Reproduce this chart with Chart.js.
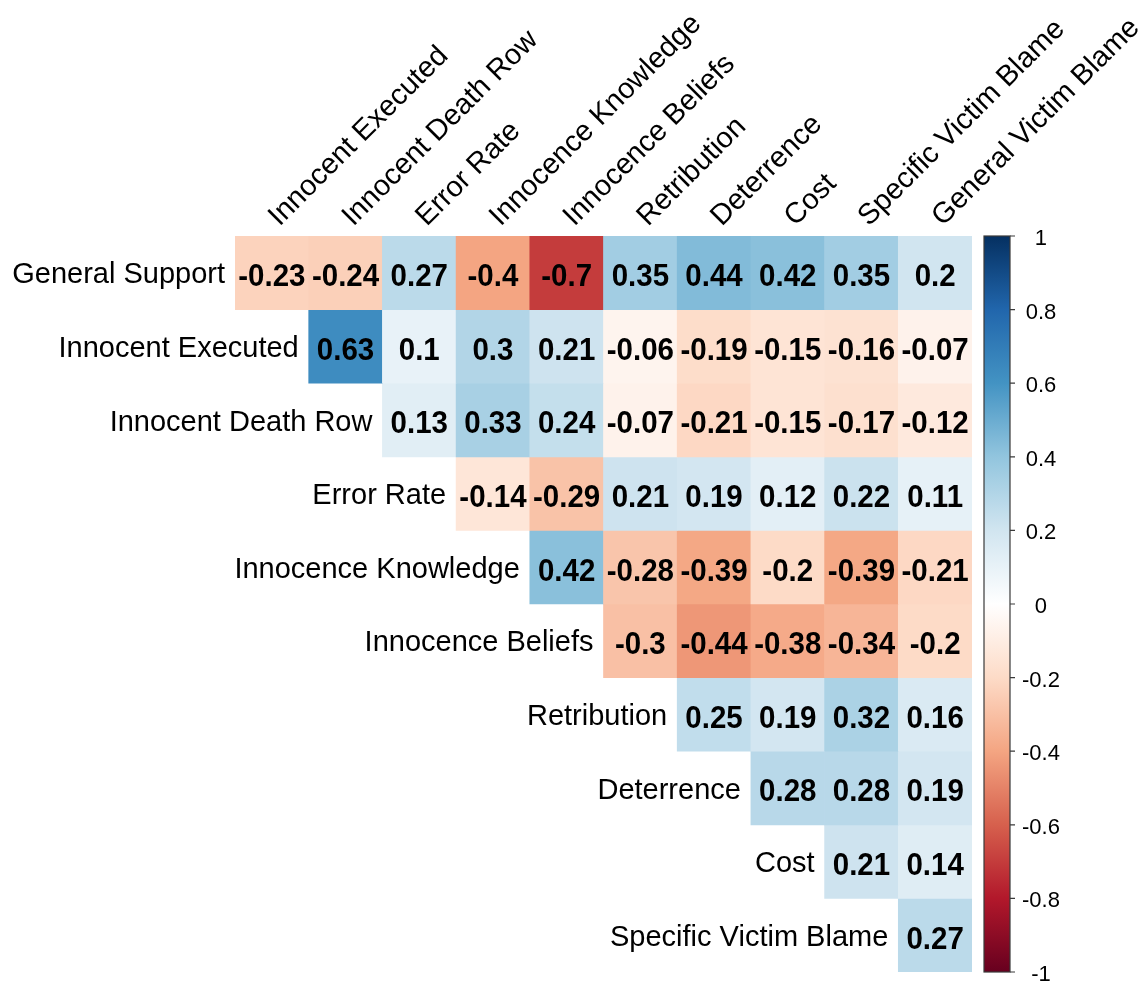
<!DOCTYPE html>
<html>
<head>
<meta charset="utf-8">
<title>Correlation matrix</title>
<script src="https://cdn.jsdelivr.net/npm/chart.js@4/dist/chart.umd.min.js"></script>
<style>
  html, body { margin: 0; padding: 0; background: #ffffff; }
  #wrap { width: 1148px; height: 983px; position: relative; }
</style>
</head>
<body>
<div id="wrap"><canvas id="corr"></canvas></div>
<script>
// Variables along the top (columns) and down the side (rows)
const columnLabels = ['Innocent Executed', 'Innocent Death Row', 'Error Rate', 'Innocence Knowledge',
  'Innocence Beliefs', 'Retribution', 'Deterrence', 'Cost', 'Specific Victim Blame', 'General Victim Blame'];
const rowLabels = ['General Support', 'Innocent Executed', 'Innocent Death Row', 'Error Rate',
  'Innocence Knowledge', 'Innocence Beliefs', 'Retribution', 'Deterrence', 'Cost', 'Specific Victim Blame'];

// Upper-triangle correlations: each row starts at the column with the same index
const generalSupport      = [-0.23, -0.24, 0.27, -0.4, -0.7, 0.35, 0.44, 0.42, 0.35, 0.2];
const innocentExecuted    = [0.63, 0.1, 0.3, 0.21, -0.06, -0.19, -0.15, -0.16, -0.07];
const innocentDeathRow    = [0.13, 0.33, 0.24, -0.07, -0.21, -0.15, -0.17, -0.12];
const errorRate           = [-0.14, -0.29, 0.21, 0.19, 0.12, 0.22, 0.11];
const innocenceKnowledge  = [0.42, -0.28, -0.39, -0.2, -0.39, -0.21];
const innocenceBeliefs    = [-0.3, -0.44, -0.38, -0.34, -0.2];
const retribution         = [0.25, 0.19, 0.32, 0.16];
const deterrence          = [0.28, 0.28, 0.19];
const cost                = [0.21, 0.14];
const specificVictimBlame = [0.27];

const matrixRows = [generalSupport, innocentExecuted, innocentDeathRow, errorRate, innocenceKnowledge,
  innocenceBeliefs, retribution, deterrence, cost, specificVictimBlame];

// Colour legend ticks
const colorbarTicks  = [-1, -0.8, -0.6, -0.4, -0.2, 0, 0.2, 0.4, 0.6, 0.8, 1];
const colorbarLabels = ['-1', '-0.8', '-0.6', '-0.4', '-0.2', '0', '0.2', '0.4', '0.6', '0.8', '1'];

// Diverging red-blue palette, from -1 to 1
const paletteStops = ['#67001F', '#B2182B', '#D6604D', '#F4A582', '#FDDBC7', '#FFFFFF',
  '#D1E5F0', '#92C5DE', '#4393C3', '#2166AC', '#053061'];

function hexToRgb(h) {
  return [parseInt(h.slice(1, 3), 16), parseInt(h.slice(3, 5), 16), parseInt(h.slice(5, 7), 16)];
}
function corrColor(v) {
  const t = (Math.max(-1, Math.min(1, v)) + 1) / 2 * (paletteStops.length - 1);
  const i = Math.min(Math.floor(t), paletteStops.length - 2);
  const f = t - i;
  const a = hexToRgb(paletteStops[i]), b = hexToRgb(paletteStops[i + 1]);
  const c = a.map((x, k) => Math.round(x + (b[k] - x) * f));
  return `rgb(${c[0]},${c[1]},${c[2]})`;
}

const FONT = '"Liberation Sans", Arial, sans-serif';

// One floating-bar dataset per row; each cell spans [row, row + 1] on the y scale
const datasets = matrixRows.map((vals, r) => ({
  label: rowLabels[r],
  data: columnLabels.map((_, c) => (c >= r ? [r, r + 1] : null)),
  corr: columnLabels.map((_, c) => (c >= r ? vals[c - r] : null)),
  backgroundColor: (ctx) => {
    const v = ctx.dataset.corr[ctx.dataIndex];
    return v === null || v === undefined ? 'rgba(0,0,0,0)' : corrColor(v);
  },
  borderWidth: 0,
  grouped: false,
  barPercentage: 1,
  categoryPercentage: 1
}));

// Row labels, rotated column labels, cell values and the colour bar
const matrixDecor = {
  id: 'matrixDecor',
  afterDatasetsDraw(chart) {
    const { ctx, chartArea, scales } = chart;
    const xs = scales.x, ys = scales.y, cb = scales.cb;
    const colW = xs.width / columnLabels.length;

    ctx.save();
    // correlation values inside cells (slightly tall bold digits)
    ctx.fillStyle = '#000000';
    ctx.font = `bold 29.5px ${FONT}`;
    ctx.textAlign = 'center';
    ctx.textBaseline = 'alphabetic';
    chart.data.datasets.forEach((ds, di) => {
      const meta = chart.getDatasetMeta(di);
      meta.data.forEach((el, ci) => {
        const v = ds.corr[ci];
        if (v === null || v === undefined) return;
        const cy = (el.y + el.base) / 2;
        ctx.save();
        ctx.translate(el.x, cy + 13.3);
        ctx.scale(1, 1.04);
        ctx.fillText(String(v), 0, 0);
        ctx.restore();
      });
    });

    // row labels, right-aligned against the first cell of each row
    ctx.font = `29px ${FONT}`;
    ctx.textAlign = 'right';
    rowLabels.forEach((lab, r) => {
      const left = xs.getPixelForValue(r) - colW / 2;
      const cy = ys.getPixelForValue(r + 0.5);
      ctx.fillText(lab, left - 10, cy + 10.5);
    });

    // column labels at 45 degrees above the grid
    ctx.textAlign = 'left';
    columnLabels.forEach((lab, c) => {
      const cx = xs.getPixelForValue(c);
      ctx.save();
      ctx.translate(cx + 7.6, chartArea.top - 9);
      ctx.rotate(-Math.PI / 4);
      ctx.fillText(lab, 0, 0);
      ctx.restore();
    });

    // colour bar
    const barL = cb.left + 12, barR = cb.left + 38;
    const yTop = cb.getPixelForValue(1), yBot = cb.getPixelForValue(-1);
    const grad = ctx.createLinearGradient(0, yBot, 0, yTop);
    paletteStops.forEach((col, i) => grad.addColorStop(i / (paletteStops.length - 1), col));
    ctx.fillStyle = grad;
    ctx.fillRect(barL, yTop, barR - barL, yBot - yTop);
    ctx.strokeStyle = '#3a3a3a';
    ctx.lineWidth = 1.2;
    ctx.strokeRect(barL, yTop, barR - barL, yBot - yTop);
    ctx.beginPath();
    colorbarTicks.forEach((v) => {
      const py = cb.getPixelForValue(v);
      ctx.moveTo(barR, py);
      ctx.lineTo(barR + 5, py);
    });
    ctx.stroke();
    ctx.restore();
  }
};

new Chart(document.getElementById('corr'), {
  type: 'bar',
  data: { labels: columnLabels, datasets },
  options: {
    responsive: true,
    maintainAspectRatio: false,
    animation: false,
    layout: { padding: { left: 235, top: 236, right: 0, bottom: 11 } },
    plugins: { legend: { display: false }, tooltip: { enabled: false } },
    scales: {
      x: { type: 'category', display: false, offset: true },
      y: { type: 'linear', display: false, min: 0, max: 10, reverse: true },
      cb: {
        type: 'linear',
        position: 'right',
        min: -1,
        max: 1,
        afterBuildTicks: (scale) => { scale.ticks = colorbarTicks.map((v) => ({ value: v })); },
        afterFit: (scale) => {
          scale.width = 176;
          scale.paddingTop = 0;
          scale.paddingBottom = 0;
        },
        grid: { display: true, drawOnChartArea: false, drawTicks: true, tickLength: 43, tickColor: 'rgba(0,0,0,0)' },
        border: { display: false },
        ticks: {
          color: '#000000',
          font: { family: FONT, size: 22 },
          padding: 7,
          crossAlign: 'center',
          labelOffset: 3,
          callback: (value) => colorbarLabels[colorbarTicks.indexOf(value)]
        }
      }
    }
  },
  plugins: [matrixDecor]
});
</script>
</body>
</html>
